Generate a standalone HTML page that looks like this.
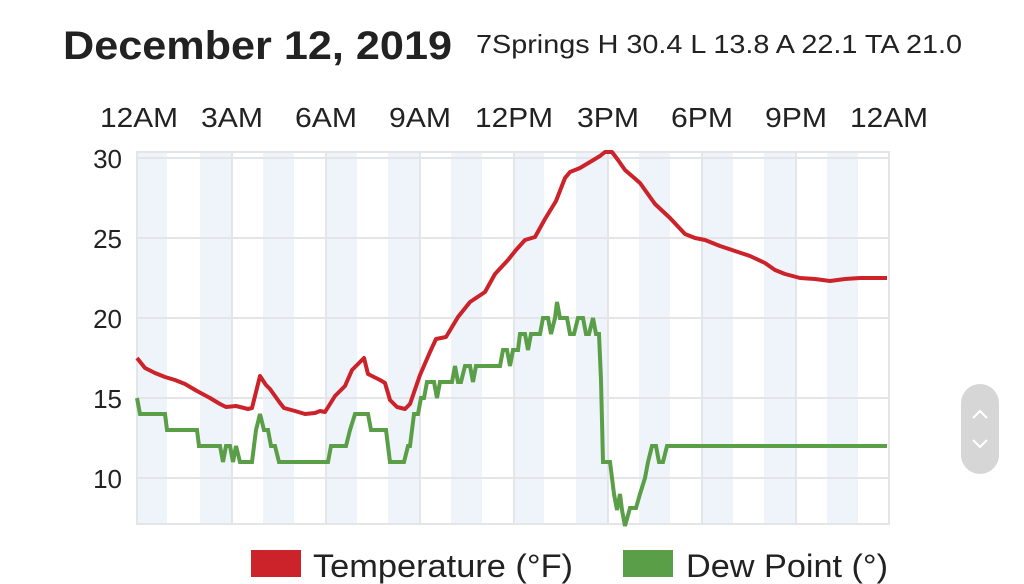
<!DOCTYPE html>
<html><head><meta charset="utf-8"><style>
html,body{margin:0;padding:0;background:#fff;}
svg{display:block;font-family:"Liberation Sans Narrow","Liberation Sans",sans-serif;}
</style></head><body>
<svg width="1024" height="584" viewBox="0 0 1024 584" xmlns="http://www.w3.org/2000/svg">
<text x="63" y="59" font-size="40" font-weight="bold" fill="#222" textLength="389" lengthAdjust="spacingAndGlyphs">December 12, 2019</text>
<text x="476" y="53" font-size="26" fill="#222" textLength="486" lengthAdjust="spacingAndGlyphs">7Springs H 30.4 L 13.8 A 22.1 TA 21.0</text>
<g font-size="28" fill="#222" text-anchor="middle">
<text x="139" y="127" textLength="78" lengthAdjust="spacingAndGlyphs">12AM</text>
<text x="232" y="127" textLength="62" lengthAdjust="spacingAndGlyphs">3AM</text>
<text x="326" y="127" textLength="62" lengthAdjust="spacingAndGlyphs">6AM</text>
<text x="420" y="127" textLength="62" lengthAdjust="spacingAndGlyphs">9AM</text>
<text x="514" y="127" textLength="78" lengthAdjust="spacingAndGlyphs">12PM</text>
<text x="608" y="127" textLength="62" lengthAdjust="spacingAndGlyphs">3PM</text>
<text x="702" y="127" textLength="62" lengthAdjust="spacingAndGlyphs">6PM</text>
<text x="796" y="127" textLength="62" lengthAdjust="spacingAndGlyphs">9PM</text>
<text x="889" y="127" textLength="78" lengthAdjust="spacingAndGlyphs">12AM</text>
</g>
<g fill="#eef4fa">
<rect x="137" y="152" width="30" height="372"/>
<rect x="200" y="152" width="31" height="372"/>
<rect x="263" y="152" width="31" height="372"/>
<rect x="326" y="152" width="31" height="372"/>
<rect x="388" y="152" width="31" height="372"/>
<rect x="451" y="152" width="31" height="372"/>
<rect x="514" y="152" width="30" height="372"/>
<rect x="576" y="152" width="31" height="372"/>
<rect x="639" y="152" width="31" height="372"/>
<rect x="702" y="152" width="31" height="372"/>
<rect x="764" y="152" width="31" height="372"/>
<rect x="827" y="152" width="31" height="372"/>
</g>
<g stroke="#e3e5e8" stroke-width="2" fill="none">
<rect x="137" y="152" width="752" height="372"/>
<line x1="137" x2="889" y1="158" y2="158"/>
<line x1="137" x2="889" y1="238" y2="238"/>
<line x1="137" x2="889" y1="318" y2="318"/>
<line x1="137" x2="889" y1="398" y2="398"/>
<line x1="137" x2="889" y1="478" y2="478"/>
<line x1="232" x2="232" y1="152" y2="524"/>
<line x1="326" x2="326" y1="152" y2="524"/>
<line x1="420" x2="420" y1="152" y2="524"/>
<line x1="514" x2="514" y1="152" y2="524"/>
<line x1="608" x2="608" y1="152" y2="524"/>
<line x1="702" x2="702" y1="152" y2="524"/>
<line x1="796" x2="796" y1="152" y2="524"/>
</g>
<g font-size="26" fill="#222" text-anchor="end">
<text x="122" y="168">30</text>
<text x="122" y="248">25</text>
<text x="122" y="328">20</text>
<text x="122" y="408">15</text>
<text x="122" y="488">10</text>
</g>
<polyline fill="none" stroke="#5a9e47" stroke-width="4" stroke-linejoin="miter" points="137,398 140,414 165,414 167,430 197,430 199,446 220,446 223,462 226,446 230,446 233,462 236,446 240,462 252,462 256,430 260,414 264,430 268,430 271,446 275,446 279,462 328,462 331,446 346,446 350,430 355,414 368,414 371,430 386,430 390,462 404,462 408,446 410,446 414,414 418,414 421,398 424,398 427,382 434,382 437,398 440,382 452,382 455,366 458,382 461,382 465,366 470,366 473,382 476,366 500,366 503,350 507,350 510,366 513,350 518,350 520,334 525,334 528,350 531,334 540,334 543,318 548,318 551,334 555,318 557,302 560,318 567,318 570,334 574,334 578,318 583,318 586,334 589,334 593,318 596,334 599,334 601,380 603,462 610,462 614,494 617,510 620,494 622,510 625,526 630,508 636,508 640,494 645,478 648,462 652,446 656,446 659,462 663,462 667,446 669,446 887,446"/>
<polyline fill="none" stroke="#cc2229" stroke-width="4" stroke-linejoin="round" points="137,358 145,368 155,373 165,377 175,380 185,384 197,391 210,398 220,404 226,407 236,406 248,409 252,408 260,376 266,385 270,389 280,403 284,408 295,411 305,414 315,413 320,411 325,412 335,396 345,386 352,370 364,358 368,374 380,380 385,383 390,400 397,407 405,409 410,404 420,375 430,352 436,339 446,337 458,317 470,302 485,292 495,274 508,260 516,250 525,240 535,237 545,219 556,201 565,178 570,172 580,168 590,162 600,156 605,152 612,152 618,160 625,170 640,183 655,204 670,218 685,234 695,238 705,240 720,246 735,251 750,256 765,263 775,270 785,274 800,278 815,279 830,281 845,279 860,278 875,278 887,278"/>
<rect x="251" y="550" width="50" height="27" fill="#cc2229"/>
<text x="313" y="577" font-size="32" fill="#222" textLength="260" lengthAdjust="spacingAndGlyphs">Temperature (°F)</text>
<rect x="623" y="550" width="50" height="27" fill="#5a9e47"/>
<text x="686" y="577" font-size="32" fill="#222" textLength="202" lengthAdjust="spacingAndGlyphs">Dew Point (°)</text>
<rect x="961" y="384" width="38" height="90" rx="19" fill="#d6d6d6"/>
<polyline points="973,418 980,411 987,418" fill="none" stroke="#fff" stroke-width="2"/>
<polyline points="973,440 980,447 987,440" fill="none" stroke="#fff" stroke-width="2"/>
</svg>
</body></html>
